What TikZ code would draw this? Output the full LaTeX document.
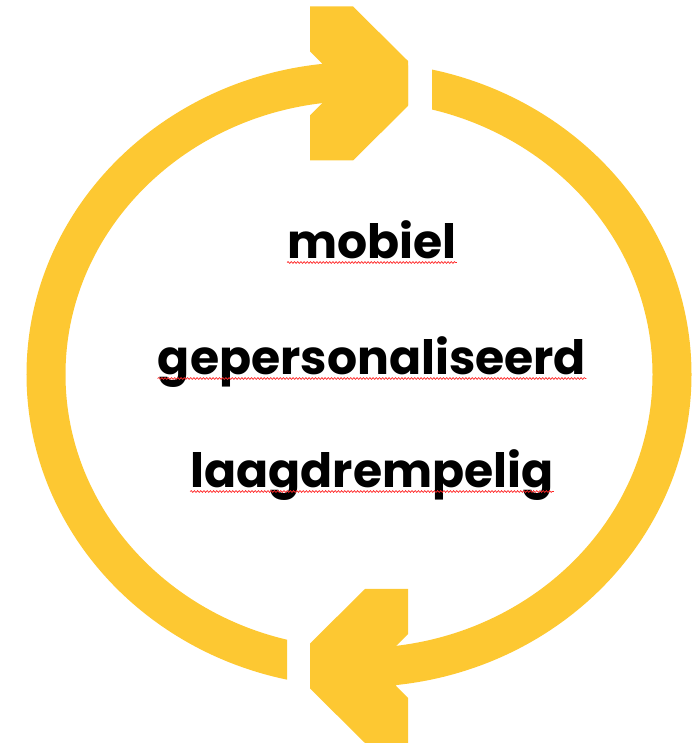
\documentclass[tikz,border=0pt]{standalone}
\usepackage{fontspec}
\setmainfont{Poppins}
\usetikzlibrary{decorations.pathmorphing}
\definecolor{cycleyellow}{RGB}{253,200,50}
\tikzset{
	ringline/.style={draw=cycleyellow,line width=39pt},
	headfill/.style={fill=cycleyellow},
	word/.style={anchor=base,inner sep=0pt,font=\fontsize{47.3}{50}\selectfont\bfseries},
	squiggle/.style={draw=red!85,line width=0.7pt,decorate,
		decoration={snake,amplitude=0.9pt,segment length=3.2pt}}
}
\begin{document}
\begin{tikzpicture}[x=1pt,y=1pt]
	\useasboundingbox (0,0) rectangle (692,744);
	\begin{scope}[even odd rule]
		\clip (0,0) rectangle (692,744)
		(408,590) rectangle (432,730) (287,14) rectangle (310,144);
		\draw[ringline] (359,369.5) ellipse [x radius=313,y radius=293];
	\end{scope}
	\foreach \cy/\dir in {660.5/1,78/-1}
	\fill[headfill,shift={(359,\cy)},xscale=\dir]
	(-49,77)--(-6,77)--(49,22.5)--(49,-22.5)--(-6,-77)--(-49,-77)
	--(-49,-32)--(-37,-20)--(-37,20)--(-49,32)--cycle;
	\foreach \y/\texn in {485/mobiel,369/gepersonaliseerd,256/laagdrempelig}
	{\path (372,\y) node[word](\texn){\texn};
		\draw[squiggle] ([yshift=-3.5pt]\texn.base west)--([yshift=-3.5pt]\texn.base east);}
\end{tikzpicture}
\end{document}
